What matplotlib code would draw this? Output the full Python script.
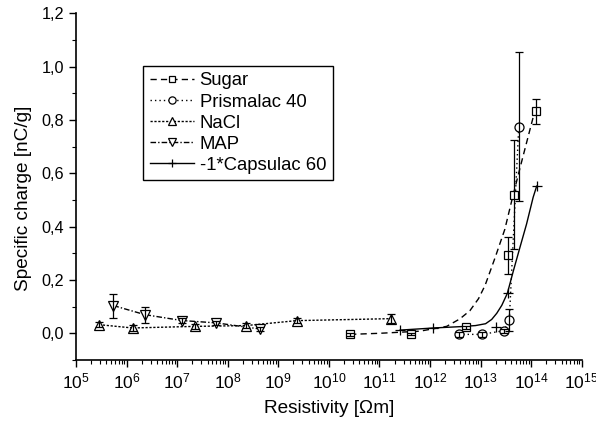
import numpy as np
import matplotlib
matplotlib.use('Agg')
import matplotlib.pyplot as plt
from matplotlib.lines import Line2D
from matplotlib.ticker import LogLocator, MultipleLocator, FuncFormatter, NullFormatter

plt.rcParams['font.family'] = ['Liberation Sans', 'DejaVu Sans']
plt.rcParams['mathtext.fontset'] = 'custom'
plt.rcParams['mathtext.rm'] = 'Liberation Sans'
plt.rcParams['mathtext.it'] = 'Liberation Sans:italic'
plt.rcParams['mathtext.bf'] = 'Liberation Sans:bold'

# measured specific charge vs. resistivity
sugar_r = [2.6e10, 4.2e11, 5.1e12, 3.55e13, 4.5e13, 1.25e14]
sugar_q = [-0.004, -0.002, 0.022, 0.292, 0.520, 0.833]
sugar_err = [0.005, 0.005, 0.006, 0.068, 0.205, 0.047]

prisma_r = [3.7e12, 1.07e13, 2.9e13, 3.7e13, 5.7e13]
prisma_q = [-0.004, -0.004, 0.010, 0.050, 0.775]
prisma_err = [0.008, 0.008, 0.008, 0.040, 0.280]

nacl_r = [2.85e5, 1.32e6, 2.24e7, 2.3e8, 2.3e9, 1.7e11]
nacl_q = [0.0325, 0.020, 0.026, 0.029, 0.0475, 0.055]
nacl_err = [0.010, 0.010, 0.010, 0.010, 0.010, 0.016]

map_r = [5.5e5, 2.3e6, 1.23e7, 6.0e7, 4.4e8]
map_q = [0.104, 0.070, 0.048, 0.039, 0.016]
map_err = [0.045, 0.030, 0.008, 0.008, 0.008]

caps_r = [2.57e11, 1.17e12, 2.0e13, 3.47e13, 1.29e14]
caps_q = [0.012, 0.020, 0.025, 0.152, 0.552]

# fitted curves (log10 of resistivity, charge)
sugar_fit_logr = [10.42, 11.0, 11.8, 12.33, 12.59, 12.79, 12.96, 13.09, 13.29, 13.48, 13.62, 13.78, 14.04, 14.10]
sugar_fit_q = [-0.004, 0.0, 0.008, 0.026, 0.054, 0.085, 0.13, 0.18, 0.285, 0.39, 0.50, 0.62, 0.81, 0.833]
caps_fit_logr = [11.41, 12.07, 12.6, 12.9, 13.1, 13.22, 13.32, 13.42, 13.53, 13.65, 13.78, 13.91, 14.04, 14.11]
caps_fit_q = [0.012, 0.020, 0.025, 0.029, 0.036, 0.052, 0.075, 0.105, 0.150, 0.235, 0.323, 0.410, 0.510, 0.552]

labels = ['Sugar', 'Prismalac 40', 'NaCl', 'MAP', '-1*Capsulac 60']
styles = [(0, (4.5, 3)), (0, (1, 2.2)), (0, (1.6, 1.2)), (0, (4, 1.5, 1, 1.5)), '-']
markers = ['s', 'o', '^', 'v', '+']
sizes = [5.5, 6.5, 7, 7, 7]

fig = plt.figure(figsize=(5.96, 4.24), dpi=100)
ax = fig.add_axes([0.1275, 0.151, 0.8485, 0.8176])

# lines
ax.plot(10 ** np.array(sugar_fit_logr), sugar_fit_q, color='k', lw=1, ls=styles[0])
ax.plot(prisma_r, prisma_q, color='k', lw=1, ls=styles[1])
ax.plot(nacl_r, nacl_q, color='k', lw=1, ls=styles[2])
ax.plot(map_r, map_q, color='k', lw=1, ls=styles[3])
ax.plot(10 ** np.array(caps_fit_logr), caps_fit_q, color='k', lw=1, ls=styles[4])

series = [(sugar_r, sugar_q, sugar_err), (prisma_r, prisma_q, prisma_err),
          (nacl_r, nacl_q, nacl_err), (map_r, map_q, map_err), (caps_r, caps_q, None)]
for (x, y, e), m, s in zip(series, markers, sizes):
    ax.plot(x, y, ls='none', marker=m, ms=s, mfc='white', mec='k', mew=0.9, zorder=3)
    if e is not None:
        ax.errorbar(x, y, yerr=e, fmt='none', ecolor='k', elinewidth=0.9,
                    capsize=2.8, capthick=0.9, zorder=4)

handles = [Line2D([], [], color='k', lw=1, ls=ls, marker=m, ms=s * 0.8,
                  mfc='white', mec='k', mew=0.9)
           for ls, m, s in zip(styles, markers, sizes)]
leg = ax.legend(handles, labels, loc='upper left', bbox_to_anchor=(0.133, 0.848),
                borderaxespad=0, fontsize=13.3, frameon=True, fancybox=False,
                edgecolor='k', framealpha=1, handlelength=2.4, handletextpad=0.3,
                labelspacing=0.22, borderpad=0.35, numpoints=1)
leg.get_frame().set_linewidth(1)

ax.set_xscale('log')
ax.set_xlim(1e5, 1e15)
ax.set_ylim(-0.1, 1.2)
ax.xaxis.set_major_locator(LogLocator(base=10, numticks=15))
ax.xaxis.set_minor_locator(LogLocator(base=10, subs=np.arange(2, 10), numticks=15))
ax.xaxis.set_minor_formatter(NullFormatter())
ax.yaxis.set_major_locator(MultipleLocator(0.2))
ax.yaxis.set_minor_locator(MultipleLocator(0.1))
ax.yaxis.set_major_formatter(FuncFormatter(lambda v, p: f'{v:.1f}'.replace('.', ',')))

for side in ['top', 'right']:
    ax.spines[side].set_visible(False)
for side in ['left', 'bottom']:
    ax.spines[side].set_linewidth(1.2)

ax.tick_params(which='major', direction='out', length=5, width=1, pad=3.5)
ax.tick_params(which='minor', direction='out', length=3, width=0.8)
ax.tick_params(axis='x', labelsize=12.5)
ax.tick_params(axis='y', labelsize=11.7)

ax.set_xlabel('Resistivity [Ωm]', fontsize=13.7)
ax.set_ylabel('Specific charge [nC/g]', fontsize=13.7)
ax.xaxis.set_label_coords(0.5, -0.115)
ax.yaxis.set_label_coords(-0.0864, 0.467)

fig.savefig('out.png', dpi=100)
